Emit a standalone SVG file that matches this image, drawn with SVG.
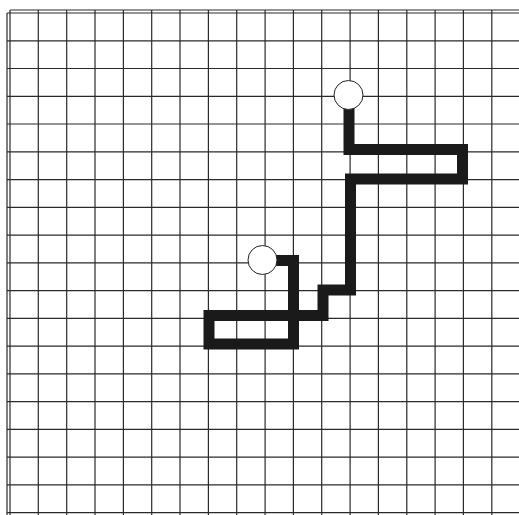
<svg xmlns="http://www.w3.org/2000/svg" width="519" height="515" viewBox="0 0 519 515">
<style>
.g{stroke:#2a2a2a;stroke-width:1.2;fill:none}
.p{stroke:#1a1a1a;stroke-width:11;fill:none;stroke-linejoin:miter;stroke-linecap:butt}
.c{fill:#fff;stroke:#222;stroke-width:1}
</style>
<rect width="519" height="515" fill="#fff"/>
<g id="grid">
<path class="g" d="M10 10H519M7 13V515M10 10V515"/>
<path class="g" d="M7 13H519M7 40.8H519M7 68.5H519M7 96.3H519M7 124H519M7 151.8H519M7 179.6H519M7 207.3H519M7 235.1H519M7 262.8H519M7 290.6H519M7 318.4H519M7 346.1H519M7 373.9H519M7 401.6H519M7 429.4H519M7 457.2H519M7 484.9H519M7 512.7H519"/>
<path class="g" d="M38.3 10V515M66.7 10V515M95 10V515M123.4 10V515M151.7 10V515M180 10V515M208.4 10V515M236.7 10V515M265.1 10V515M293.4 10V515M321.7 10V515M350.1 10V515M378.4 10V515M406.8 10V515M435.1 10V515M463.4 10V515M491.8 10V515"/>
</g>
<g id="route">
<path class="p" d="M349 108V149.5H462.5V179H350.5V290H323V315.5H209V344H293.5V260.5H270"/>
</g>
<g id="start"><circle class="c" cx="348.5" cy="95" r="14.5"/></g>
<g id="end"><circle class="c" cx="262.5" cy="260" r="14.5"/></g>
</svg>
